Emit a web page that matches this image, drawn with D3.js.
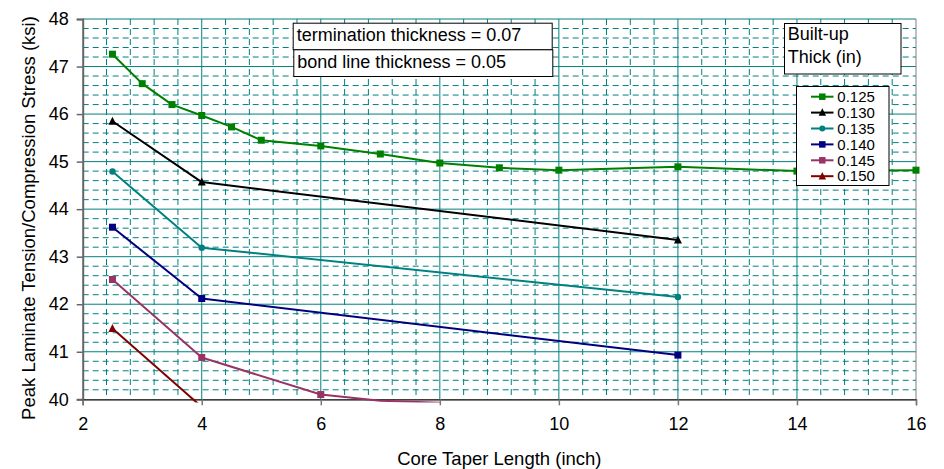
<!DOCTYPE html>
<html>
<head>
<meta charset="utf-8">
<script src="https://cdn.jsdelivr.net/npm/d3@7"></script>
<style>
html,body{margin:0;padding:0;background:#fff;}
svg{display:block;font-family:"Liberation Sans",Arial,Helvetica,sans-serif;}
</style>
</head>
<body>
<svg id="chart" width="944" height="469"></svg>
<script>
// ---- data ----
const seriesLabels = ["0.125", "0.130", "0.135", "0.140", "0.145", "0.150"];
const x125 = [2.5, 3, 3.5, 4, 4.5, 5, 6, 7, 8, 9, 10, 12, 14, 16];
const y125 = [47.26, 46.64, 46.20, 45.97, 45.73, 45.45, 45.33, 45.16, 44.97, 44.87, 44.82, 44.89, 44.80, 44.82];
const x130 = [2.5, 4, 12];
const y130 = [45.85, 44.57, 43.35];
const x135 = [2.5, 4, 12];
const y135 = [44.79, 43.19, 42.15];
const x140 = [2.5, 4, 12];
const y140 = [43.62, 42.12, 40.93];
const x145 = [2.5, 4, 6, 7, 8];
const y145 = [42.52, 40.88, 40.10, 39.97, 39.93];
const x150 = [2.5, 4];
const y150 = [41.49, 39.84];
const xTicks = [2, 4, 6, 8, 10, 12, 14, 16];
const yTicks = [40, 41, 42, 43, 44, 45, 46, 47, 48];
const noteLines = ["termination thickness = 0.07", "bond line thickness = 0.05"];
const legendTitle = ["Built-up", "Thick (in)"];
const xTitle = "Core Taper Length (inch)";
const yTitle = "Peak Laminate Tension/Compression Stress (ksi)";

// ---- styles ----
const colors = ["#008000", "#000000", "#008080", "#000080", "#993366", "#800000"];
const shapes = ["square", "triangle", "circle", "square", "square", "triangle"];
const xs = [x125, x130, x135, x140, x145, x150];
const ys = [y125, y130, y135, y140, y145, y150];
const series = seriesLabels.map((lab, i) => ({
  label: lab, color: colors[i], shape: shapes[i],
  pts: xs[i].map((x, j) => ({x: x, y: ys[i][j]}))
}));

const L = 82.7, R = 916, T = 19, B = 399.3;
const x = d3.scaleLinear().domain([2, 16]).range([L, R]);
const y = d3.scaleLinear().domain([40, 48]).range([B, T]);
const svg = d3.select("#chart");
const grid = "#008080";

svg.append("rect").attr("width", 944).attr("height", 469).attr("fill", "#fff");

// minor grid
const minorX = d3.range(0, 36).map(k => 2 + k * 0.4).filter((v, k) => k % 5 !== 0);
const minorY = d3.range(0, 41).map(k => 40 + k * 0.2).filter((v, k) => k % 5 !== 0 && k < 40 && k > 0);
const g = svg.append("g");
g.selectAll(".mx").data(minorX).join("line")
  .attr("x1", d => x(d)).attr("x2", d => x(d)).attr("y1", T).attr("y2", B)
  .attr("stroke", grid).attr("stroke-width", 1).attr("stroke-dasharray", "6,4");
g.selectAll(".my").data(minorY).join("line")
  .attr("y1", d => y(d)).attr("y2", d => y(d)).attr("x1", L).attr("x2", R)
  .attr("stroke", grid).attr("stroke-width", 1).attr("stroke-dasharray", "6,4");
// major grid
g.selectAll(".Mx").data(xTicks.slice(1, -1)).join("line")
  .attr("x1", d => x(d)).attr("x2", d => x(d)).attr("y1", T).attr("y2", B)
  .attr("stroke", grid).attr("stroke-width", 1);
g.selectAll(".My").data(yTicks.slice(1)).join("line")
  .attr("y1", d => y(d)).attr("y2", d => y(d)).attr("x1", L).attr("x2", R)
  .attr("stroke", grid).attr("stroke-width", 1);

// plot border (right)
svg.append("line").attr("x1", R).attr("x2", R).attr("y1", T).attr("y2", B).attr("stroke", "#808080").attr("stroke-width", 1);

// axes
const yAxis = d3.axisLeft(y).tickValues(yTicks).tickSize(6).tickPadding(8).tickFormat(d3.format("d"));
const ya = svg.append("g").attr("transform", `translate(${L},0)`).call(yAxis);
ya.select(".domain").attr("stroke", "#666").attr("stroke-width", 2);
ya.selectAll(".tick line").attr("stroke", "#666").attr("stroke-width", 1.5);
ya.selectAll(".tick text").attr("font-size", 18).attr("fill", "#000").attr("font-family", "Liberation Sans, Arial, sans-serif");

const xAxis = d3.axisBottom(x).tickValues(xTicks).tickSize(6).tickPadding(12).tickFormat(d3.format("d"));
const xa = svg.append("g").attr("transform", `translate(0,${B})`).call(xAxis);
xa.select(".domain").attr("stroke", "#000").attr("stroke-width", 1.2);
xa.selectAll(".tick line").attr("stroke", "#777").attr("stroke-width", 1.5);
xa.selectAll(".tick text").attr("font-size", 18).attr("fill", "#000").attr("font-family", "Liberation Sans, Arial, sans-serif");

// axis titles
svg.append("text").attr("x", (L + R) / 2).attr("y", 465).attr("text-anchor", "middle")
  .attr("font-size", 18.5).attr("fill", "#000").text(xTitle);
svg.append("text").attr("transform", `translate(35,218) rotate(-90)`).attr("text-anchor", "middle")
  .attr("font-size", 18.5).attr("fill", "#000").text(yTitle);

// clip for lines
svg.append("clipPath").attr("id", "clip").append("rect")
  .attr("x", L).attr("y", T - 4).attr("width", R - L + 2).attr("height", B + 3.2 - (T - 4));

const line = d3.line().x(d => x(d.x)).y(d => y(d.y)).curve(d3.curveLinear);
const lg = svg.append("g").attr("clip-path", "url(#clip)");
series.forEach(s => {
  lg.append("path").attr("d", line(s.pts)).attr("fill", "none")
    .attr("stroke", s.color).attr("stroke-width", 2).attr("stroke-linejoin", "round");
});

function marker(sel, shape, cx, cy, color, size) {
  if (shape === "square") {
    sel.append("rect").attr("x", cx - size / 2).attr("y", cy - size / 2).attr("width", size).attr("height", size).attr("fill", color);
  } else if (shape === "triangle") {
    const h = size;
    sel.append("path").attr("d", `M${cx},${cy - h / 2 - 1}L${cx + h / 2 + 0.5},${cy + h / 2}L${cx - h / 2 - 0.5},${cy + h / 2}Z`).attr("fill", color);
  } else {
    sel.append("circle").attr("cx", cx).attr("cy", cy).attr("r", size / 2).attr("fill", color);
  }
}
const mg = svg.append("g");
series.forEach(s => {
  s.pts.filter(p => p.y >= 40 && p.y <= 48).forEach(p => {
    marker(mg, s.shape, x(p.x), y(p.y), s.color, s.shape === "circle" ? 6.5 : 7);
  });
});

// note boxes
const nb = [{x: 292.7, y: 22.7, w: 259, h: 26.6}, {x: 293.3, y: 49.3, w: 259, h: 26.7}];
noteLines.forEach((t, i) => {
  svg.append("rect").attr("x", nb[i].x + 0.5).attr("y", nb[i].y + 0.5).attr("width", nb[i].w).attr("height", nb[i].h)
    .attr("fill", "#fff").attr("stroke", "#000").attr("stroke-width", 1);
  svg.append("text").attr("x", nb[i].x + 4).attr("y", nb[i].y + 18.5).attr("font-size", 18).attr("fill", "#000").text(t);
});

// legend title box
svg.append("rect").attr("x", 784.5).attr("y", 23.5).attr("width", 116.5).attr("height", 50.5)
  .attr("fill", "#fff").attr("stroke", "#000").attr("stroke-width", 1);
legendTitle.forEach((t, i) => {
  svg.append("text").attr("x", 787.7).attr("y", 40 + i * 23).attr("font-size", 18).attr("fill", "#000").text(t);
});

// legend
const lgx = 796, lgy = 86;
svg.append("rect").attr("x", lgx + 0.5).attr("y", lgy + 0.5).attr("width", 92.5).attr("height", 99)
  .attr("fill", "#fff").attr("stroke", "#000").attr("stroke-width", 1);
series.forEach((s, i) => {
  const cy = 96.7 + i * 15.9;
  svg.append("line").attr("x1", 811).attr("x2", 833.5).attr("y1", cy).attr("y2", cy)
    .attr("stroke", s.color).attr("stroke-width", 2);
  marker(svg, s.shape, 822.3, cy, s.color, s.shape === "circle" ? 6 : 6.5);
  svg.append("text").attr("x", 837.3).attr("y", cy + 5.2).attr("font-size", 15).attr("fill", "#000").text(s.label);
});
</script>
</body>
</html>
